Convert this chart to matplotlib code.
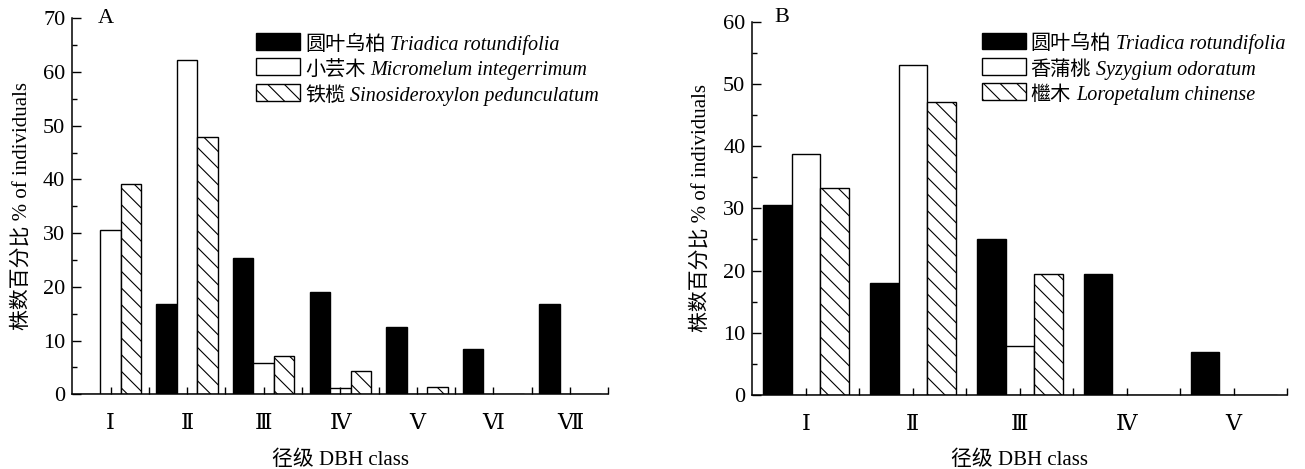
import matplotlib
matplotlib.use("Agg")
import matplotlib.pyplot as plt
import numpy as np
from matplotlib.offsetbox import (AnchoredOffsetbox, DrawingArea, HPacker,
                                  TextArea, VPacker)
from matplotlib.patches import Rectangle

plt.rcParams['font.family'] = ['Liberation Serif', 'DejaVu Serif', 'Noto Sans CJK SC']
plt.rcParams['hatch.linewidth'] = 0.8

# panel A data
classes_a = ['Ⅰ', 'Ⅱ', 'Ⅲ', 'Ⅳ', 'Ⅴ', 'Ⅵ', 'Ⅶ']
triadica_a = [0, 16.9, 25.3, 19.0, 12.6, 8.4, 16.9]
micromelum_a = [30.6, 62.3, 5.9, 1.2, 0, 0, 0]
sinosideroxylon_a = [39.1, 47.9, 7.2, 4.3, 1.4, 0, 0]
names_a = [('圆叶乌柏', 'Triadica rotundifolia'),
           ('小芸木', 'Micromelum integerrimum'),
           ('铁榄', 'Sinosideroxylon pedunculatum')]

# panel B data
classes_b = ['Ⅰ', 'Ⅱ', 'Ⅲ', 'Ⅳ', 'Ⅴ']
triadica_b = [30.6, 18.0, 25.0, 19.4, 6.9]
syzygium_b = [38.8, 53.1, 7.9, 0, 0]
loropetalum_b = [33.3, 47.1, 19.4, 0, 0]
names_b = [('圆叶乌柏', 'Triadica rotundifolia'),
           ('香蒲桃', 'Syzygium odoratum'),
           ('檵木', 'Loropetalum chinense')]

styles = [dict(facecolor='black', edgecolor='black', hatch=None),
          dict(facecolor='white', edgecolor='black', hatch=None),
          dict(facecolor='white', edgecolor='black', hatch='\\\\')]


def make_legend(ax, names, x, y):
    rows = []
    for (cn, latin), st in zip(names, styles):
        da = DrawingArea(31.7, 12.2, 0, 0)
        da.add_artist(Rectangle((0, 0), 31.7, 12.2, lw=1.0, **st))
        t1 = TextArea(cn, textprops=dict(size=14.5, family='Noto Sans CJK SC'))
        t2 = TextArea(latin, textprops=dict(size=14.5, style='italic',
                                            family='Liberation Serif'))
        rows.append(HPacker(children=[da, t1, t2], align='baseline', pad=0, sep=3.5))
    box = VPacker(children=rows, align='left', pad=0, sep=2.5)
    anch = AnchoredOffsetbox(loc='upper left', child=box, pad=0, borderpad=0,
                             frameon=False, bbox_to_anchor=(x, y),
                             bbox_transform=ax.transAxes)
    ax.add_artist(anch)


def draw_panel(ax, classes, series, ymax, letter, names, leg_xy, letter_xy, ylab_x):
    x = np.arange(len(classes))
    w = 0.267
    for i, (vals, st) in enumerate(zip(series, styles)):
        ax.bar(x + (i - 1) * w, vals, w, linewidth=1.0, **st)
    ax.set_xlim(-0.5, len(classes) - 1 if len(classes) == 7 else len(classes) - 0.5)
    ax.set_ylim(0, ymax)
    ax.set_xticks(x)
    ax.set_xticklabels(classes, fontsize=16)
    ax.set_xticks(np.arange(len(classes)) + 0.5, minor=True)
    ax.set_yticks(np.arange(0, ymax + 1, 10))
    ax.set_yticks(np.arange(5, ymax, 10), minor=True)
    ax.tick_params(axis='y', which='major', direction='in', length=6.5, width=1.0,
                   labelsize=16, pad=5)
    ax.tick_params(axis='y', which='minor', direction='in', length=3.5, width=1.0)
    ax.tick_params(axis='x', which='both', direction='in', length=5, width=1.0,
                   pad=15)
    for s in ['top', 'right']:
        ax.spines[s].set_visible(False)
    for s in ['left', 'bottom']:
        ax.spines[s].set_linewidth(1.1)
    ax.set_xlabel('径级 DBH class', fontsize=15)
    ax.xaxis.set_label_coords(0.5, -0.176)
    ax.xaxis.label.set_va('center')
    ax.set_ylabel('株数百分比 % of individuals', fontsize=15)
    ax.yaxis.set_label_coords(ylab_x, 0.5)
    ax.yaxis.label.set_va('center')
    ax.text(letter_xy[0], letter_xy[1], letter, transform=ax.transAxes,
            fontsize=16, va='center', ha='center')
    make_legend(ax, names, *leg_xy)


fig = plt.figure(figsize=(13.05, 4.69), dpi=100)
ax_a = fig.add_axes([0.0554, 0.1593, 0.4107, 0.8017])
ax_b = fig.add_axes([0.5765, 0.1578, 0.4099, 0.7959])

draw_panel(ax_a, classes_a, [triadica_a, micromelum_a, sinosideroxylon_a], 70, 'A',
           names_a, (0.343, 0.961), (0.063, 1.0), -0.094)
draw_panel(ax_b, classes_b, [triadica_b, syzygium_b, loropetalum_b], 60, 'B',
           names_b, (0.429, 0.971), (0.055, 1.01), -0.097)

fig.savefig('out.png', dpi=100)
